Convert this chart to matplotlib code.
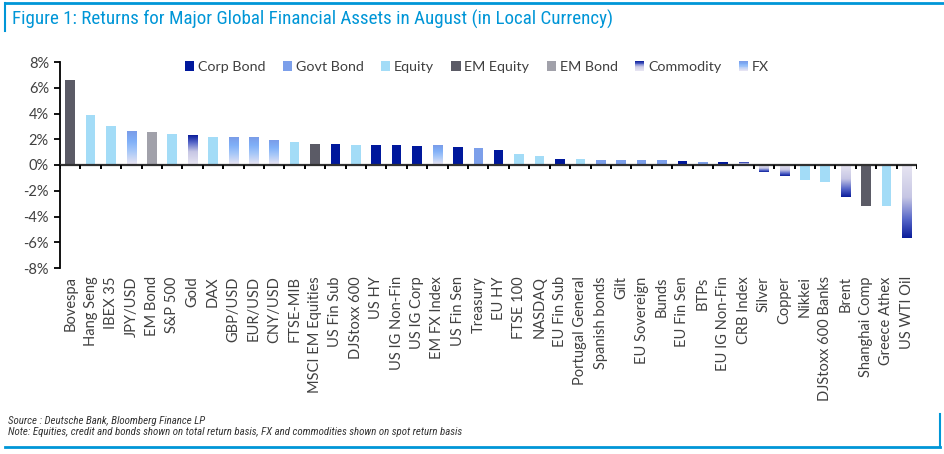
import numpy as np
import matplotlib
matplotlib.use('Agg')
import matplotlib.pyplot as plt
from matplotlib.colors import LinearSegmentedColormap
from matplotlib.patches import Rectangle
from matplotlib.lines import Line2D
from matplotlib.legend_handler import HandlerBase

labels = ["Bovespa", "Hang Seng", "IBEX 35", "JPY/USD", "EM Bond", "S&P 500", "Gold", "DAX",
          "GBP/USD", "EUR/USD", "CNY/USD", "FTSE-MIB", "MSCI EM Equities", "US Fin Sub",
          "DJStoxx 600", "US HY", "US IG Non-Fin", "US IG Corp", "EM FX Index", "US Fin Sen",
          "Treasury", "EU HY", "FTSE 100", "NASDAQ", "EU Fin Sub", "Portugal General",
          "Spanish bonds", "Gilt", "EU Sovereign", "Bunds", "EU Fin Sen", "BTPs", "EU IG Non-Fin",
          "CRB Index", "Silver", "Copper", "Nikkei", "DJStoxx 600 Banks", "Brent", "Shanghai Comp",
          "Greece Athex", "US WTI Oil"]
values = [6.6, 3.88, 3.03, 2.64, 2.56, 2.41, 2.33, 2.17,
          2.10, 2.10, 1.94, 1.79, 1.63, 1.63,
          1.55, 1.55, 1.55, 1.48, 1.48, 1.40,
          1.32, 1.17, 0.85, 0.70, 0.47, 0.47,
          0.39, 0.39, 0.39, 0.39, 0.31, 0.23, 0.23,
          0.23, -0.54, -0.85, -1.17, -1.32, -2.49, -3.18,
          -3.18, -5.67]
kinds = ["EM Equity", "Equity", "Equity", "FX", "EM Bond", "Equity", "Commodity", "Equity",
         "FX", "FX", "FX", "Equity", "EM Equity", "Corp Bond",
         "Equity", "Corp Bond", "Corp Bond", "Corp Bond", "FX", "Corp Bond",
         "Govt Bond", "Corp Bond", "Equity", "Equity", "Corp Bond", "Equity",
         "Govt Bond", "Govt Bond", "Govt Bond", "Govt Bond", "Corp Bond", "Govt Bond", "Corp Bond",
         "Commodity", "Commodity", "Commodity", "Equity", "Equity", "Commodity", "EM Equity",
         "Equity", "Commodity"]
legend_order = ["Corp Bond", "Govt Bond", "Equity", "EM Equity", "EM Bond", "Commodity", "FX"]
yticks = [-8, -6, -4, -2, 0, 2, 4, 6, 8]

solid = {"Corp Bond": "#00189C", "Govt Bond": "#7C9FEA", "Equity": "#A3DCF7",
         "EM Equity": "#5B5B66", "EM Bond": "#A1A1AA"}
grad = {
    "Commodity": LinearSegmentedColormap.from_list(
        "comm", [(0, "#E8E6F2"), (0.45, "#C6C6E4"), (0.75, "#5666C8"), (1, "#0A1C9A")]),
    "FX": LinearSegmentedColormap.from_list(
        "fx", [(0, "#ECE6F2"), (0.4, "#A8C8F8"), (0.7, "#80B0F8"), (1, "#7A9CE8")]),
}

BLUE = "#0096D7"
TEXT = "#404040"
plt.rcParams['font.family'] = ['Lato', 'DejaVu Sans']
NARROW = ['Roboto Condensed', 'Roboto', 'DejaVu Sans']

W, H = 945, 454
fig = plt.figure(figsize=(W / 100, H / 100), dpi=100)
ax = fig.add_axes([60 / W, (H - 268) / H, 857 / W, 206 / H])

x = np.arange(len(labels))
bars = ax.bar(x, values, width=0.47, color=[solid.get(k, "none") for k in kinds],
              linewidth=0, zorder=2)
grad_arr = np.linspace(0, 1, 256).reshape(-1, 1)
for b, k, v in zip(bars, kinds, values):
    if k in grad:
        x0, w = b.get_x(), b.get_width()
        ax.imshow(grad_arr, cmap=grad[k], extent=(x0, x0 + w, 0, v), origin='lower',
                  aspect='auto', interpolation='bilinear', zorder=2)

ax.axhline(0, color="#303030", lw=1.6, zorder=3)
ax.vlines(np.arange(-0.5, len(labels)), 0, -0.33, color="black", lw=1.4, zorder=3)

ax.set_xlim(-0.5, len(labels) - 0.5)
ax.set_ylim(-8, 8)
ax.set_yticks(yticks)
ax.set_yticklabels([f"{t}%" for t in yticks], fontsize=10.5, color=TEXT)
ax.set_xticks(x)
ax.set_xticklabels(labels, rotation=90, fontsize=10.5, color=TEXT)
ax.tick_params(axis='x', length=0, pad=6)
ax.tick_params(axis='y', direction='out', length=4, width=1.3, pad=4)
for s in ['top', 'right', 'bottom']:
    ax.spines[s].set_visible(False)
ax.spines['left'].set_linewidth(1.3)
ax.spines['left'].set_color('black')


class GradHandler(HandlerBase):
    def __init__(self, cmap):
        super().__init__()
        self.cmap = cmap

    def create_artists(self, legend, orig_handle, xdescent, ydescent, width, height, fontsize, trans):
        n = 12
        arts = []
        for i in range(n):
            c = self.cmap(1 - (i + 0.5) / n)
            arts.append(Rectangle((-xdescent, -ydescent + height - (i + 1) * height / n),
                                  width, height / n + 0.05, facecolor=c, edgecolor='none',
                                  transform=trans))
        return arts


handles = []
hmap = {}
for k in legend_order:
    r = Rectangle((0, 0), 1, 1, facecolor=solid.get(k, "white"), edgecolor='none')
    handles.append(r)
    if k in grad:
        hmap[r] = GradHandler(grad[k])
fig.legend(handles, legend_order, handler_map=hmap, loc='upper left',
           bbox_to_anchor=(185 / W, 1 - 61 / H), ncol=7, frameon=False,
           fontsize=10.3, handlelength=0.65, handleheight=0.65, handletextpad=0.25,
           columnspacing=1.22, borderaxespad=0, borderpad=0, labelcolor=TEXT)

# frame decorations
fig.add_artist(Line2D([5 / W, 1.0], [1 - 3 / H, 1 - 3 / H], color=BLUE, lw=2.0))
fig.add_artist(Line2D([5 / W, 5 / W], [1 - 3 / H, 1 - 31 / H], color=BLUE, lw=1.5))
fig.add_artist(Line2D([5 / W, 940 / W], [(H - 447) / H, (H - 447) / H], color=BLUE, lw=2.0))
fig.add_artist(Line2D([940 / W, 940 / W], [(H - 447) / H, (H - 414) / H], color=BLUE, lw=1.5))

fig.text(12 / W, 1 - 19 / H,
         "Figure 1: Returns for Major Global Financial Assets in August (in Local Currency)",
         fontsize=13.7, color=BLUE, va='center', ha='left', family=NARROW)
fig.text(8 / W, 1 - 421 / H, "Source : Deutsche Bank, Bloomberg Finance LP",
         fontsize=7.8, style='italic', color="#333333", va='center', family=NARROW)
fig.text(8 / W, 1 - 432 / H,
         "Note: Equities, credit and bonds shown on total return basis, FX and commodities shown on spot return basis",
         fontsize=7.8, style='italic', color="#333333", va='center', family=NARROW)

fig.savefig("out.png", dpi=100)
